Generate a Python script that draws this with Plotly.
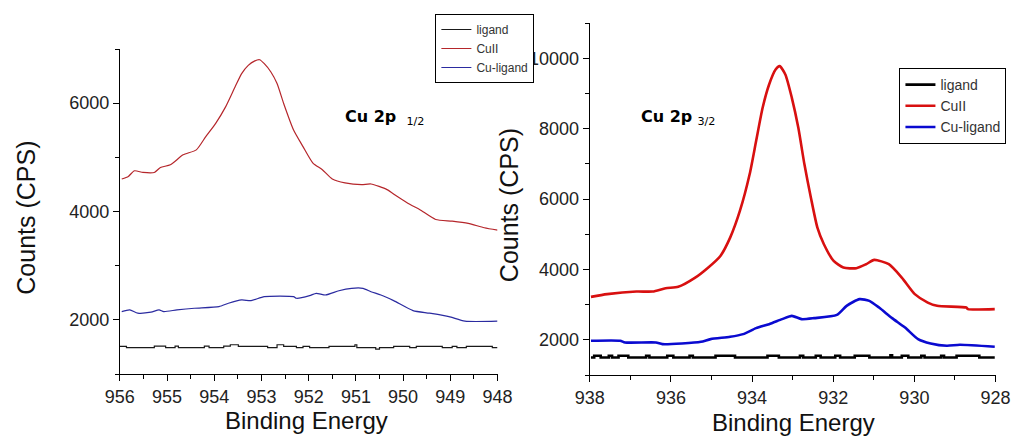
import plotly.graph_objects as go

# ---------------- Cu 2p1/2 region (956 -> 948 eV) ----------------
be_cu2_12 = [955.96, 955.82, 955.69, 955.51, 955.27, 955.14, 954.93, 954.66, 954.38, 954.18,
             953.97, 953.76, 953.56, 953.42, 953.28, 953.15, 953.04, 952.94, 952.80, 952.67,
             952.53, 952.32, 952.12, 951.91, 951.71, 951.50, 951.23, 950.88, 950.68, 950.34,
             950.13, 949.85, 949.65, 949.31, 948.96, 948.62, 948.28, 948.00]
cps_cu2_12 = [4600, 4648, 4752, 4721, 4721, 4813, 4862, 5046, 5138, 5382,
              5628, 5932, 6299, 6545, 6697, 6776, 6802, 6729, 6575, 6362,
              5995, 5505, 5198, 4894, 4771, 4600, 4527, 4495, 4508, 4404,
              4281, 4128, 4037, 3853, 3822, 3780, 3700, 3657]

be_culig_12 = [955.96, 955.79, 955.62, 955.34, 955.17, 955.07, 954.79, 954.42, 953.90, 953.70,
               953.42, 953.22, 952.94, 952.32, 952.26, 951.98, 951.84, 951.64, 951.36, 951.09,
               950.85, 950.68, 950.47, 950.20, 949.79, 949.44, 949.03, 948.69, 948.00]
cps_culig_12 = [2152, 2183, 2123, 2141, 2183, 2152, 2183, 2214, 2244, 2306,
                2367, 2354, 2428, 2428, 2398, 2446, 2490, 2459, 2537, 2582,
                2582, 2519, 2459, 2354, 2171, 2123, 2060, 1976, 1976]

be_lig_12 = [956.00, 955.86, 955.27, 955.03, 954.83, 954.76, 954.21, 954.11, 953.80, 953.66,
             953.49, 952.87, 952.67, 952.53, 952.26, 952.12, 951.98, 951.57, 951.02, 950.98,
             950.58, 950.50, 950.20, 949.86, 949.72, 949.17, 948.96, 948.86, 948.66, 948.11,
             948.00]
cps_lig_12 = [1510, 1487, 1515, 1487, 1515, 1487, 1515, 1487, 1515, 1540,
              1510, 1487, 1540, 1510, 1487, 1510, 1487, 1510, 1540, 1487,
              1460, 1487, 1510, 1487, 1510, 1487, 1510, 1487, 1510, 1487,
              1487]

# ---------------- Cu 2p3/2 region (938 -> 928 eV) ----------------
be_cu2_32 = [937.97, 937.57, 936.85, 936.45, 936.13, 935.82, 935.42, 935.10, 934.78, 934.54,
             934.30, 934.06, 933.90, 933.74, 933.58, 933.42, 933.32, 933.18, 933.02, 932.86,
             932.71, 932.55, 932.39, 932.23, 931.99, 931.75, 931.43, 931.19, 930.99, 930.63,
             930.31, 929.99, 929.67, 929.44, 928.72, 928.68, 928.02]
cps_cu2_32 = [3220, 3297, 3371, 3371, 3466, 3504, 3750, 4034, 4383, 4903,
              5660, 6701, 7646, 8591, 9254, 9680, 9774, 9538, 8874, 8023,
              6985, 6037, 5186, 4715, 4241, 4052, 4034, 4147, 4270, 4147,
              3767, 3297, 3058, 2965, 2916, 2871, 2871]

be_culig_32 = [937.97, 937.25, 937.13, 936.37, 936.21, 935.73, 935.26, 935.02, 934.54, 934.22,
               933.90, 933.58, 933.26, 933.02, 932.78, 932.47, 931.91, 931.67, 931.35, 931.11,
               930.87, 930.55, 930.23, 929.91, 929.60, 929.20, 928.88, 928.02]
cps_culig_32 = [1972, 1972, 1924, 1924, 1878, 1896, 1943, 2020, 2085, 2161,
                2331, 2444, 2587, 2681, 2587, 2615, 2709, 2965, 3155, 3106,
                2916, 2615, 2349, 2020, 1896, 1830, 1858, 1801]

be_lig_32 = [937.97, 937.89, 937.73, 937.53, 937.45, 937.29, 937.05, 936.61, 936.53, 936.09,
             935.94, 935.54, 935.46, 934.90, 934.42, 933.62, 933.34, 932.82, 932.74, 932.43,
             932.31, 931.95, 931.83, 931.47, 931.11, 930.59, 930.55, 930.31, 930.15, 929.83,
             929.75, 929.34, 929.27, 928.96, 928.40, 928.02]
cps_lig_32 = [1499, 1546, 1499, 1546, 1499, 1546, 1499, 1546, 1499, 1546,
              1499, 1546, 1499, 1546, 1499, 1546, 1499, 1546, 1499, 1546,
              1499, 1546, 1499, 1546, 1499, 1560, 1499, 1546, 1499, 1546,
              1499, 1546, 1499, 1546, 1499, 1499]

series_names = ["ligand", "CuII", "Cu-ligand"]
x_ticks_12 = [956, 955, 954, 953, 952, 951, 950, 949, 948]
x_ticks_32 = [938, 936, 934, 932, 930, 928]
y_ticks_12 = [2000, 4000, 6000]
y_ticks_32 = [2000, 4000, 6000, 8000, 10000]

FONT = "Liberation Sans, Arial, sans-serif"
W, H = 1029, 436

fig = go.Figure()

# left panel traces (thin lines)
left_cols = ["#1a1a1a", "#b5262b", "#2b2ba0"]
for name, xs, ys, col, shape in [
    (series_names[0], be_lig_12, cps_lig_12, left_cols[0], "hv"),
    (series_names[1], be_cu2_12, cps_cu2_12, left_cols[1], "spline"),
    (series_names[2], be_culig_12, cps_culig_12, left_cols[2], "spline"),
]:
    line = dict(color=col, width=1.2, shape=shape)
    if shape == "spline":
        line["smoothing"] = 0.6
    fig.add_trace(go.Scatter(x=xs, y=ys, mode="lines", name=name, line=line,
                             xaxis="x", yaxis="y", legend="legend"))

# right panel traces (thick lines)
right_cols = ["#000000", "#d81010", "#0a0ad0"]
for name, xs, ys, col, shape in [
    (series_names[0], be_lig_32, cps_lig_32, right_cols[0], "hv"),
    (series_names[1], be_cu2_32, cps_cu2_32, right_cols[1], "spline"),
    (series_names[2], be_culig_32, cps_culig_32, right_cols[2], "spline"),
]:
    line = dict(color=col, width=2.6, shape=shape)
    if shape == "spline":
        line["smoothing"] = 0.6
    fig.add_trace(go.Scatter(x=xs, y=ys, mode="lines", name=name, line=line,
                             xaxis="x2", yaxis="y2", legend="legend2"))

tickfont = dict(family=FONT, size=18, color="#222222")
axis_common = dict(showline=True, linecolor="#000000", linewidth=1, showgrid=False,
                   zeroline=False, ticks="outside", ticklen=6, tickcolor="#000000",
                   tickfont=tickfont, mirror=False)

fig.update_layout(
    width=W, height=H,
    margin=dict(l=0, r=0, t=0, b=0),
    paper_bgcolor="white", plot_bgcolor="white",
    showlegend=True,
    xaxis=dict(domain=[108 / W, 497 / W], range=[956, 948], tickvals=x_ticks_12,
               minor=dict(dtick=0.5, ticks="outside", ticklen=4, tickcolor="#000"),
               anchor="y", **axis_common),
    yaxis=dict(domain=[1 - 374 / H, 1 - 49 / H], range=[1000, 7000], tickvals=y_ticks_12,
               tickformat="d",
               minor=dict(dtick=1000, ticks="outside", ticklen=4, tickcolor="#000"),
               anchor="x", **axis_common),
    xaxis2=dict(domain=[592 / W, 1010 / W], range=[938, 928], tickvals=x_ticks_32,
                minor=dict(dtick=1, ticks="outside", ticklen=4, tickcolor="#000"),
                anchor="y2", **axis_common),
    yaxis2=dict(domain=[1 - 375 / H, 1 - 23 / H], range=[1000, 11000], tickvals=y_ticks_32,
                tickformat="d",
                minor=dict(dtick=1000, ticks="outside", ticklen=4, tickcolor="#000"),
                anchor="x2", **axis_common),
    legend=dict(x=433 / W, y=1 - 14 / H, xanchor="left", yanchor="top",
                bgcolor="white", bordercolor="#000000", borderwidth=1,
                font=dict(family=FONT, size=12, color="#333333"),
                itemwidth=30, tracegroupgap=0),
    legend2=dict(x=911 / W, y=1 - 68 / H, xanchor="left", yanchor="top",
                 bgcolor="white", bordercolor="#000000", borderwidth=1,
                 font=dict(family=FONT, size=14, color="#333333"),
                 itemwidth=30, tracegroupgap=0),
)

title_font = dict(family=FONT, size=24, color="#111111")
ylab_font = dict(family=FONT, size=25, color="#111111")
annotations = [
    dict(text="Binding Energy", x=300 / W, y=1 - 420 / H, font=title_font),
    dict(text="Binding Energy", x=802 / W, y=1 - 422 / H, font=title_font),
    dict(text="Counts (CPS)", x=11 / W, y=1 - 218 / H, textangle=-90, font=ylab_font),
    dict(text="Counts (CPS)", x=509 / W, y=1 - 205 / H, textangle=-90, font=ylab_font),
    dict(text="<b>Cu 2p</b>  <sub>1/2</sub>", x=338 / W, y=1 - 117 / H, xanchor="left",
         font=dict(family="DejaVu Sans, sans-serif", size=16, color="#000000")),
    dict(text="<b>Cu 2p</b> <sub>3/2</sub>", x=643 / W, y=1 - 117 / H, xanchor="left",
         font=dict(family="DejaVu Sans, sans-serif", size=16, color="#000000")),
]
for a in annotations:
    a.setdefault("xanchor", "center")
    fig.add_annotation(xref="paper", yref="paper", showarrow=False, yanchor="middle", **a)

fig.write_html("out.html")
